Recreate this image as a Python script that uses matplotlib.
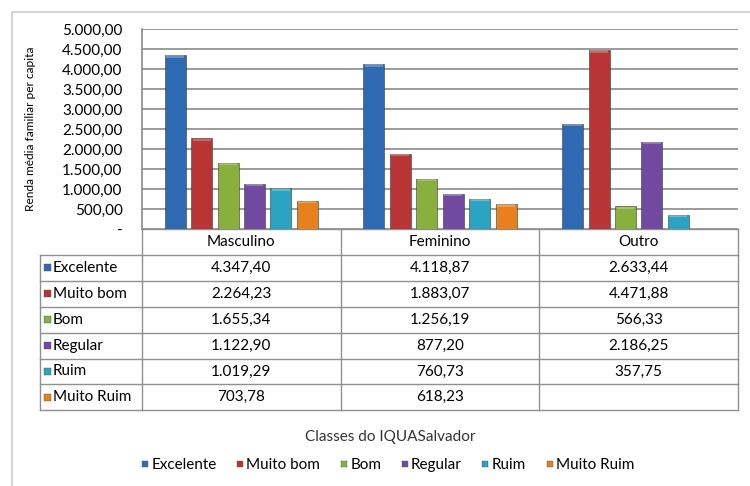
import matplotlib.pyplot as plt
import numpy as np
from matplotlib.patches import Rectangle

plt.rcParams['font.family'] = ['Lato', 'DejaVu Sans']

groups = ['Masculino', 'Feminino', 'Outro']
classes = ['Excelente', 'Muito bom', 'Bom', 'Regular', 'Ruim', 'Muito Ruim']
colors = ['#2e6ab3', '#b93434', '#88b03c', '#7149a0', '#2ba4c4', '#e8811d']

# renda media familiar per capita, one list per class (Masculino, Feminino, Outro)
excelente = [4347.40, 4118.87, 2633.44]
muito_bom = [2264.23, 1883.07, 4471.88]
bom = [1655.34, 1256.19, 566.33]
regular = [1122.90, 877.20, 2186.25]
ruim = [1019.29, 760.73, 357.75]
muito_ruim = [703.78, 618.23, np.nan]
series = [excelente, muito_bom, bom, regular, ruim, muito_ruim]

yticks = np.arange(0, 5001, 500)


def br(v):
    if np.isnan(v):
        return ''
    s = '{:,.2f}'.format(v)
    return s.replace(',', 'X').replace('.', ',').replace('X', '.')


W, H = 750, 486
fig = plt.figure(figsize=(7.5, 4.86), dpi=100)

# overlay in pixel coords for table / frame
ov = fig.add_axes([0, 0, 1, 1])
ov.set_xlim(0, W)
ov.set_ylim(H, 0)
ov.axis('off')

# plot area
left, right, top, bottom = 142, 738, 29, 229
ax = fig.add_axes([left / W, 1 - bottom / H, (right - left) / W, (bottom - top) / H])
ax.set_xlim(0, 3)
ax.set_ylim(0, 5000)
step, bw = 0.133, 0.106
x = np.arange(3) + 0.5
for i, (vals, c) in enumerate(zip(series, colors)):
    v = np.array(vals, dtype=float)
    ax.bar(x + (i - 2.5) * step, v, bw, color=c, edgecolor='#3a3a3a',
           linewidth=0.4, zorder=3)
    # light bevel on top of each bar
    ax.bar(x + (i - 2.5) * step, np.where(np.isnan(v), np.nan, 55), bw * 0.85,
           bottom=v - 60, color='white', alpha=0.25, linewidth=0, zorder=4)
ax.set_yticks(yticks)
ax.set_yticklabels(['-'] + [br(t) for t in yticks[1:]], fontsize=11)
ax.tick_params(axis='y', length=0, pad=14)
ax.set_xticks([])
ax.yaxis.grid(True, color='#8a8a8a', linewidth=1.2, zorder=0)
for s in ['top', 'right', 'bottom']:
    ax.spines[s].set_visible(False)
ax.spines['left'].set_color('#8a8a8a')
ax.spines['left'].set_linewidth(1.2)
ax.set_ylabel('Renda média familiar per capita', fontsize=8.6)
ax.yaxis.set_label_coords(-0.178, 0.5)

# outer frame
ov.plot([12, 12, W], [H, 12, 12], color='#d4d4d4', lw=1.5)

# data table
lc = '#8f8f8f'
row_h = 25.9
tab_left = 40
hdr_top = bottom
fs = 11
ov.plot([left, right], [hdr_top, hdr_top], color=lc, lw=1)
for r in range(len(classes) + 1):
    y = hdr_top + (r + 1) * row_h
    ov.plot([tab_left, right], [y, y], color=lc, lw=1)
cols = [left + k * (right - left) / 3 for k in range(4)]
last = hdr_top + (len(classes) + 1) * row_h
for k, cx in enumerate(cols):
    ov.plot([cx, cx], [hdr_top, last], color=lc, lw=1)
ov.plot([tab_left, tab_left], [hdr_top + row_h, last], color=lc, lw=1)
for k, g in enumerate(groups):
    ov.text((cols[k] + cols[k + 1]) / 2, hdr_top + row_h / 2, g,
            ha='center', va='center', fontsize=fs)
for r, (name, vals, c) in enumerate(zip(classes, series, colors)):
    yc = hdr_top + (r + 1.5) * row_h
    ov.add_patch(Rectangle((44, yc - 3.5), 7, 7, color=c, ec='#555555', lw=0.3))
    ov.text(53, yc, name, ha='left', va='center', fontsize=fs)
    for k in range(3):
        ov.text((cols[k] + cols[k + 1]) / 2, yc, br(vals[k]),
                ha='center', va='center', fontsize=fs)

# axis title + legend
ov.text(390, 437, 'Classes do IQUASalvador', ha='center', va='center',
        fontsize=fs, color='#333333')
handles = [plt.Line2D([], [], marker='s', ls='', color=c, markersize=5,
                      markeredgecolor='#555555', markeredgewidth=0.3) for c in colors]
fig.legend(handles, classes, loc='center', bbox_to_anchor=(387 / W, 1 - 465 / H),
           ncol=6, frameon=False, fontsize=fs, handletextpad=0.05,
           columnspacing=1.2, handlelength=0.7)

fig.savefig('out.png', dpi=100)
